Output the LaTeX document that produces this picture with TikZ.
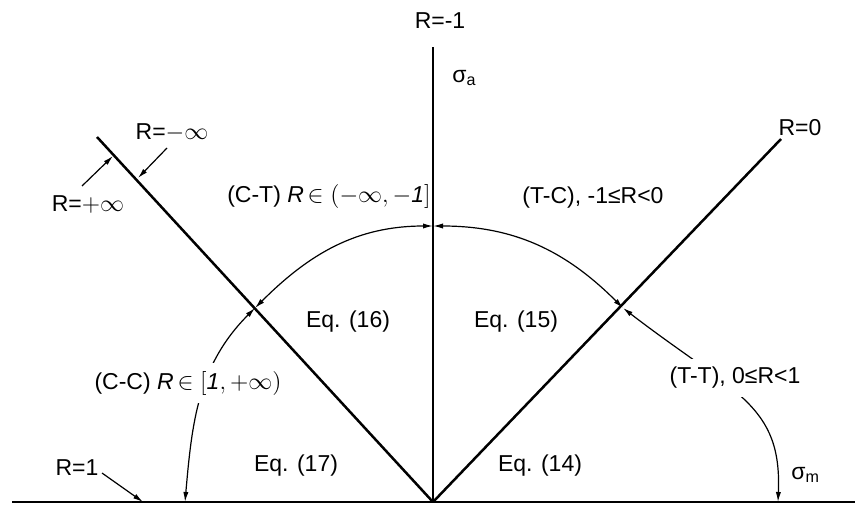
\documentclass[tikz,border=0pt]{standalone}
\usepackage{fontspec}
\setmainfont{Liberation Sans}
\usepackage{tikz}
\usetikzlibrary{arrows.meta}

\begin{document}
\begin{tikzpicture}[
    x=0.5pt, y=0.5pt,
    font=\fontsize{11.5}{13}\selectfont,
    axis/.style={draw=black, line width=1.25pt},
    arc/.style={{Latex[length=5pt,width=2.6pt]}-{Latex[length=5pt,width=2.6pt]}, draw=black, line width=0.6pt},
    pointer/.style={-{Latex[length=5pt,width=2.6pt]}, draw=black, line width=0.6pt},
    lbl/.style={inner sep=1pt},
    cut/.style={fill=white, inner sep=4pt},
]
\useasboundingbox (0,0) rectangle (855,504);

% ── Axes and the two 45-degree lines ─────────────────────────────────
\coordinate (O)    at (433,2);
\coordinate (xl)   at (12,2);
\coordinate (xr)   at (855,2);
\coordinate (vtop) at (433,457);
\coordinate (rtop) at (781,365);
\coordinate (ltop) at (97,367);

\draw[axis] (xl) -- (xr);
\draw[axis] (O) -- (vtop);
\draw[axis] (O) -- (rtop);
\draw[axis] (O) -- (ltop);

% ── Where the arcs meet the lines ────────────────────────────────────
\coordinate (cV) at (433,278);
\coordinate (cL) at (255,196);
\coordinate (cR) at (623,196);
\coordinate (bL) at (185,2);
\coordinate (bR) at (778,2);

\draw[arc] (cV) to[out=180, in=45] (cL);
\draw[arc] (cV) to[out=0, in=135] (cR);
\draw[arc] (cL) to[out=225, in=85] (bL);
\draw[arc] (cR) .. controls (735,110) and (782,100) .. (bR);

% ── Line names ───────────────────────────────────────────────────────
\node[lbl] (rm1)  at (440,483) {R=-1};
\node[lbl, anchor=west] (sa) at (450,426) {σ\textsubscript{a}};
\node[lbl] (r0)   at (800,376) {R=0};
\node[lbl, anchor=west] (sm) at (789,29) {σ\textsubscript{m}};

\node[lbl] (rmi)  at (172,371) {R=$-\infty$};
\coordinate (rmiA) at (167,356);
\coordinate (rmiB) at (138,326);
\draw[pointer] (rmiA) -- (rmiB);

\node[lbl] (rpi)  at (88,299) {R=$+\infty$};
\coordinate (rpiA) at (82,318);
\coordinate (rpiB) at (113,348);
\draw[pointer] (rpiA) -- (rpiB);

\node[lbl] (r1)   at (77,36) {R=1};
\coordinate (r1A) at (102,31);
\coordinate (r1B) at (143,2);
\draw[pointer] (r1A) -- (r1B);

% ── Regions ──────────────────────────────────────────────────────────
\node[lbl] (ct) at (329,308) {(C-T) \textit{R}\,$\in\bigl(-\infty,-\textit{1}\bigr]$};
\node[lbl] (tc) at (593,306) {(T-C), -1≤R<0};
\node[cut] (cc) at (188,121) {(C-C) \textit{R}\,$\in\bigl[\textit{1},+\infty\bigr)$};
\node[cut] (tt) at (735,126) {(T-T), 0≤R<1};

\node[lbl] (eq16) at (348,182) {Eq. (16)};
\node[lbl] (eq15) at (516,182) {Eq. (15)};
\node[lbl] (eq17) at (296,38)  {Eq. (17)};
\node[lbl] (eq14) at (540,38)  {Eq. (14)};

\end{tikzpicture}
\end{document}
